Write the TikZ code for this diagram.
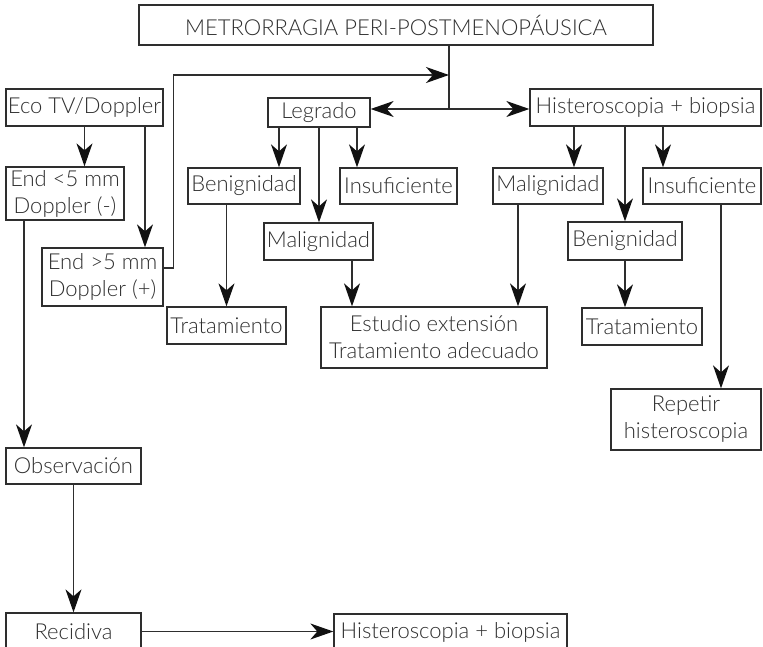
\documentclass[tikz,border=0pt]{standalone}
\usepackage{fontspec}
\setmainfont{Lato Light}
\usetikzlibrary{arrows.meta,calc}
\definecolor{ink}{HTML}{2E2E2E}
\definecolor{head}{HTML}{111111}
\begin{document}
\begin{tikzpicture}[x=1pt,y=-1pt,
  box/.style={draw=ink,line width=1.3pt,rectangle,inner sep=0pt,align=center,text=ink,
    font=\fontsize{22}{27}\selectfont},
  arr/.style={draw=ink,line width=1.3pt,-{Stealth[length=23pt,width=16pt,inset=7pt,color=head]}},
  ln/.style={draw=ink,line width=1.3pt}]
\useasboundingbox (0,0) rectangle (763,647);
\clip (0,0) rectangle (763,647);
% nodes
\node[box,minimum width=514pt,minimum height=40pt] (title) at (396,25) {METRORRAGIA PERI-POSTMENOPÁUSICA};
\node[box,minimum width=157pt,minimum height=37pt] (eco) at (84.5,107.5) {Eco TV/Doppler};
\node[box,minimum width=102pt,minimum height=29pt] (leg) at (319,112.5) {Legrado};
\node[box,minimum width=231pt,minimum height=37pt] (hist) at (645.5,107.5) {Histeroscopia + biopsia};
\node[box,minimum width=118pt,minimum height=53pt] (end1) at (65,193.5) {End <5 mm\\Doppler (-)};
\node[box,minimum width=121pt,minimum height=58pt] (end2) at (102.5,277) {End >5 mm\\Doppler (+)};
\node[box,minimum width=112pt,minimum height=36pt] (ben1) at (244,186) {Benignidad};
\node[box,minimum width=117pt,minimum height=36pt] (ins1) at (398.5,186) {Insuficiente};
\node[box,minimum width=109pt,minimum height=37pt] (mal1) at (318.5,241.5) {Malignidad};
\node[box,minimum width=119pt,minimum height=37pt] (trat1) at (226.5,325.5) {Tratamiento};
\node[box,minimum width=226pt,minimum height=61pt] (est) at (434,337.5) {Estudio extensión\\Tratamiento adecuado};
\node[box,minimum width=110pt,minimum height=36pt] (mal2) at (548,186) {Malignidad};
\node[box,minimum width=118pt,minimum height=36pt] (ins2) at (702,186) {Insuficiente};
\node[box,minimum width=114pt,minimum height=38pt] (ben2) at (625,241) {Benignidad};
\node[box,minimum width=120pt,minimum height=37pt] (trat2) at (642,326.5) {Tratamiento};
\node[box,minimum width=150pt,minimum height=61pt] (rep) at (686,419.5) {Repetir\\histeroscopia};
\node[box,minimum width=135pt,minimum height=36pt] (obs) at (73.5,466) {Observación};
\node[box,minimum width=135pt,minimum height=37pt] (rec) at (73.5,631.5) {Recidiva};
\node[box,minimum width=233pt,minimum height=37pt] (hist2) at (450.5,632.5) {Histeroscopia + biopsia};
% junctions
\coordinate (J) at (449,109);
\coordinate (T) at (449,75);
\draw[ln] (J |- title.south) -- (J);
\draw[arr] (J) -- (J -| leg.east);
\draw[arr] (J) -- (J -| hist.west);
\draw[arr] ([yshift=9pt]end2.east) -- ++(10pt,0) |- (T);
% eco branch
\draw[arr] (eco.south) -- (eco.south |- end1.north);
\path ([xshift=60.5pt]eco.south) coordinate (e2a);
\draw[arr] (e2a) -- (e2a |- end2.north);
\path ([xshift=-41pt]end1.south) coordinate (e1a);
\draw[arr] (e1a) -- (e1a |- obs.north);
\draw[arr] (obs.south) -- (obs.south |- rec.north);
\draw[arr] (rec.east) -- (rec.east -| hist2.west);
% legrado branch
\path ([xshift=-40pt]leg.south) coordinate (l1);
\draw[arr] (l1) -- (l1 |- ben1.north);
\draw[arr] (leg.south) -- (leg.south |- mal1.north);
\path ([xshift=38pt]leg.south) coordinate (l3);
\draw[arr] (l3) -- (l3 |- ins1.north);
\draw[arr] (trat1.north |- ben1.south) -- (trat1.north);
\path ([xshift=33.5pt]mal1.south) coordinate (m1);
\draw[arr] (m1) -- (m1 |- est.north);
% histeroscopia branch
\path ([xshift=-71.5pt]hist.south) coordinate (h1);
\draw[arr] (h1) -- (h1 |- mal2.north);
\draw[arr] (ben2.north |- hist.south) -- (ben2.north);
\path ([xshift=17.5pt]hist.south) coordinate (h3);
\draw[arr] (h3) -- (h3 |- ins2.north);
\path ([xshift=-30pt]mal2.south) coordinate (m2);
\draw[arr] (m2) -- (m2 |- est.north);
\draw[arr] (ben2.south) -- (ben2.south |- trat2.north);
\path ([xshift=19pt]ins2.south) coordinate (i2);
\draw[arr] (i2) -- (i2 |- rep.north);
\end{tikzpicture}
\end{document}
